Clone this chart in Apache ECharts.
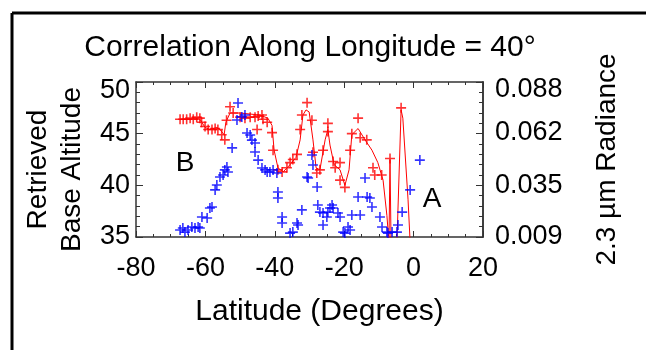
<!DOCTYPE html>
<html>
<head>
<meta charset="utf-8">
<script src="https://cdn.jsdelivr.net/npm/echarts@6/dist/echarts.min.js"></script>
<style>
    html, body { margin: 0; padding: 0; background: #fff; overflow: hidden; }
    #chart { width: 646px; height: 350px; }
</style>
</head>
<body>
<div id="chart"></div>
<script>
// retrieved base altitude (latitude, km)
const altitudePoints = [
    [-67.3, 46.4], [-66.4, 46.4], [-65.4, 46.4], [-64.4, 46.5], [-63.5, 46.4], [-62.5, 46.6], [-61.6, 46.5],
    [-61.1, 46.1], [-60.1, 45.7], [-59.2, 45.4], [-58.1, 45.4], [-57.2, 45.5], [-56.4, 45.4], [-55.3, 44.9],
    [-54.4, 44.4], [-53.9, 46.3], [-52.9, 47.6], [-52.0, 47.0], [-50.0, 46.6], [-48.6, 46.5], [-47.1, 46.6],
    [-45.7, 46.6], [-45.1, 45.4], [-44.8, 46.7], [-43.7, 46.8], [-43.4, 46.4], [-42.2, 46.1], [-40.8, 45.1],
    [-40.5, 43.4], [-39.1, 41.5], [-37.9, 41.3], [-36.5, 41.7], [-35.6, 42.2], [-34.8, 42.5], [-33.6, 43.0],
    [-32.7, 45.4], [-32.2, 46.8], [-30.7, 48.0], [-29.3, 46.3], [-29.0, 43.2], [-27.9, 41.2], [-27.0, 41.5],
    [-26.1, 43.4], [-24.7, 46.0], [-24.7, 45.2], [-23.2, 42.3], [-22.6, 41.7], [-21.2, 42.2], [-21.2, 40.5],
    [-19.8, 39.8], [-18.3, 43.4], [-17.8, 45.0], [-16.0, 46.5], [-15.4, 44.6], [-13.5, 44.4], [-11.7, 41.7],
    [-11.2, 41.0], [-9.2, 41.0], [-6.8, 42.6], [-3.6, 47.5],
];
// smoothed altitude curve
const altitudeLine = [
    [-67.3, 46.4], [-61.6, 46.4], [-61.0, 46.1], [-60.1, 45.6], [-58.7, 45.4], [-56.7, 45.6], [-55.8, 45.4],
    [-54.6, 44.9], [-54.1, 46.1], [-52.9, 47.0], [-50.0, 47.0], [-44.3, 46.8], [-42.0, 46.5], [-40.8, 45.8],
    [-40.2, 43.4], [-39.1, 41.7], [-37.6, 41.3], [-35.6, 42.0], [-33.9, 42.7], [-32.7, 44.4], [-31.9, 46.8],
    [-31.0, 47.3], [-30.1, 47.1], [-29.0, 44.4], [-28.1, 41.7], [-27.0, 41.5], [-25.5, 44.4], [-24.7, 45.4],
    [-24.1, 43.9], [-22.9, 42.0], [-21.2, 41.5], [-19.8, 40.0], [-18.6, 41.5], [-17.8, 44.9], [-16.0, 45.5],
    [-14.0, 44.4], [-12.0, 43.4], [-10.3, 42.2], [-8.8, 40.5], [-7.7, 37.1], [-7.1, 34.5], [-6.8, 42.5],
    [-6.5, 34.5], [-4.8, 34.5], [-3.6, 47.3], [-3.1, 46.5], [-1.6, 38.6], [-1.0, 34.5],
];
// 2.3 um radiance
const radiancePoints = [
    [-67.3, 0.0126], [-66.5, 0.0136], [-65.9, 0.0115], [-65.0, 0.0126], [-63.9, 0.0141], [-63.0, 0.0136],
    [-62.1, 0.0141], [-61.6, 0.0136], [-61.0, 0.0192], [-59.5, 0.0187], [-58.7, 0.0238], [-58.1, 0.0243],
    [-57.2, 0.0330], [-56.7, 0.0355], [-55.8, 0.0396], [-54.9, 0.0406], [-54.4, 0.0432], [-53.8, 0.0447],
    [-53.5, 0.0421], [-52.3, 0.0544], [-50.6, 0.0773], [-50.9, 0.0686], [-49.5, 0.0702], [-48.6, 0.0712],
    [-48.0, 0.0620], [-47.1, 0.0610], [-46.6, 0.0584], [-45.7, 0.0569], [-45.7, 0.0523], [-44.8, 0.0482],
    [-43.7, 0.0442], [-42.8, 0.0432], [-42.2, 0.0421], [-41.4, 0.0421], [-40.5, 0.0432], [-39.4, 0.0416],
    [-39.1, 0.0319], [-39.1, 0.0289], [-37.9, 0.0192], [-37.9, 0.0161], [-35.6, 0.0110], [-34.8, 0.0115],
    [-33.6, 0.0161], [-33.3, 0.0151], [-32.2, 0.0228], [-30.7, 0.0396], [-30.4, 0.0391], [-29.3, 0.0508],
    [-29.0, 0.0457], [-27.8, 0.0345], [-27.6, 0.0253], [-27.0, 0.0217], [-26.1, 0.0212], [-26.1, 0.0151],
    [-25.0, 0.0192], [-24.7, 0.0217], [-24.1, 0.0238], [-23.5, 0.0253], [-23.2, 0.0238], [-21.8, 0.0212],
    [-21.2, 0.0192], [-20.3, 0.0115], [-19.8, 0.0110], [-18.9, 0.0141], [-18.3, 0.0126], [-17.8, 0.0202],
    [-16.0, 0.0294], [-15.4, 0.0202], [-14.0, 0.0391], [-13.4, 0.0294], [-12.6, 0.0289], [-12.0, 0.0243],
    [-9.7, 0.0192], [-9.1, 0.0141], [-7.7, 0.0115], [-7.4, 0.0110], [-6.2, 0.0115], [-4.8, 0.0115],
    [-4.5, 0.0151], [-3.3, 0.0217], [-1.0, 0.0330], [1.8, 0.0482],
];
const radianceTicks = [0.009, 0.035, 0.062, 0.088];

const font = 'Liberation Sans';
const plus = 'path://M4.2,0H5.8V4.2H10V5.8H5.8V10H4.2V5.8H0V4.2H4.2Z';
const frameLine = { onZero: false, lineStyle: { color: '#333', width: 1.5 } };

let myChart = echarts.init(document.getElementById('chart'));
myChart.setOption({
    animation: false,
    backgroundColor: '#fff',
    textStyle: { fontFamily: font, color: '#000' },
    title: {
        text: 'Correlation Along Longitude = 40°',
        left: 305,
        textAlign: 'center',
        top: 28,
        textStyle: { fontFamily: font, fontSize: 30, fontWeight: 'normal', color: '#000' },
    },
    grid: { left: 136, top: 82, width: 347, height: 155 },
    xAxis: [
        {
            type: 'value',
            min: -80,
            max: 20,
            interval: 20,
            position: 'bottom',
            axisLine: frameLine,
            axisTick: { inside: true, length: 6, lineStyle: { color: '#333' } },
            minorTick: { show: true, splitNumber: 4, length: 3, lineStyle: { color: '#333' } },
            splitLine: { show: false },
            axisLabel: { fontSize: 27, color: '#000', margin: 18 },
            name: 'Latitude (Degrees)',
            nameLocation: 'middle',
            nameGap: 60,
            nameTextStyle: { fontSize: 30, color: '#000', padding: [0, 0, 0, 20] },
        },
        {
            type: 'value',
            min: -80,
            max: 20,
            interval: 20,
            position: 'top',
            axisLine: frameLine,
            axisTick: { inside: true, length: 6, lineStyle: { color: '#333' } },
            minorTick: { show: true, splitNumber: 4, length: 3, lineStyle: { color: '#333' } },
            splitLine: { show: false },
            axisLabel: { show: false },
        },
    ],
    yAxis: [
        {
            type: 'value',
            min: 35,
            max: 50,
            interval: 5,
            position: 'left',
            axisLine: { show: true, ...frameLine },
            axisTick: { show: true, inside: true, length: 7, lineStyle: { color: '#333' } },
            minorTick: { show: true, splitNumber: 5, length: 4, lineStyle: { color: '#333' } },
            splitLine: { show: false },
            axisLabel: {
                fontSize: 27,
                color: '#000',
                margin: 6,
                formatter: (v) => (v === 50 ? '{top|50}' : String(v)),
                rich: { top: { fontSize: 27, padding: [18, 0, 0, 0] } },
            },
            name: 'Retrieved\nBase Altitude',
            nameLocation: 'middle',
            nameRotate: 90,
            nameGap: 45,
            nameTextStyle: { fontSize: 28, lineHeight: 34, color: '#000', padding: [0, 20, 0, 0] },
        },
        {
            type: 'value',
            min: 0.009,
            max: 0.088,
            position: 'right',
            offset: 0,
            axisLine: { show: true, ...frameLine },
            axisTick: { show: false },
            splitLine: { show: false },
            axisLabel: {
                customValues: radianceTicks,
                fontSize: 27,
                color: '#000',
                margin: 12,
                formatter: (v) => (v === 0.088 ? '{top|0.088}' : v.toFixed(3)),
                rich: { top: { fontSize: 27, padding: [16, 0, 0, 0] } },
            },
            name: '2.3 µm Radiance',
            nameLocation: 'middle',
            nameRotate: 90,
            nameGap: 110,
            nameTextStyle: { fontSize: 28, color: '#000' },
        },
        {
            // ticks along the right frame
            type: 'value',
            min: 35,
            max: 50,
            interval: 5,
            position: 'right',
            offset: 0,
            axisLine: { show: true, ...frameLine },
            axisTick: { show: true, inside: true, length: 7, lineStyle: { color: '#333' } },
            minorTick: { show: true, splitNumber: 5, length: 4, lineStyle: { color: '#333' } },
            splitLine: { show: false },
            axisLabel: { show: false },
        },
    ],
    graphic: [
        {
            type: 'line',
            shape: { x1: 12, y1: 13, x2: 12, y2: 360 },
            style: { stroke: '#000', lineWidth: 3 },
            silent: true,
        },
        {
            type: 'line',
            shape: { x1: 12, y1: 13, x2: 646, y2: 13 },
            style: { stroke: '#000', lineWidth: 3 },
            silent: true,
        },
        {
            type: 'text',
            x: 185,
            y: 163,
            style: { text: 'B', font: '28px "Liberation Sans"', fill: '#000', textAlign: 'center', textVerticalAlign: 'middle' },
        },
        {
            type: 'text',
            x: 432,
            y: 199,
            style: { text: 'A', font: '28px "Liberation Sans"', fill: '#000', textAlign: 'center', textVerticalAlign: 'middle' },
        },
    ],
    series: [
        {
            name: 'altitude curve',
            type: 'line',
            data: altitudeLine,
            showSymbol: false,
            symbol: 'none',
            clip: true,
            lineStyle: { color: '#ff0000', width: 1 },
            z: 2,
        },
        {
            name: 'altitude',
            type: 'scatter',
            data: altitudePoints,
            symbol: plus,
            symbolSize: 10,
            itemStyle: { color: '#ff0000' },
            z: 3,
        },
        {
            name: 'radiance',
            type: 'scatter',
            yAxisIndex: 1,
            data: radiancePoints,
            symbol: plus,
            symbolSize: 10,
            itemStyle: { color: '#0000ff' },
            z: 3,
        },
    ],
});
</script>
</body>
</html>
